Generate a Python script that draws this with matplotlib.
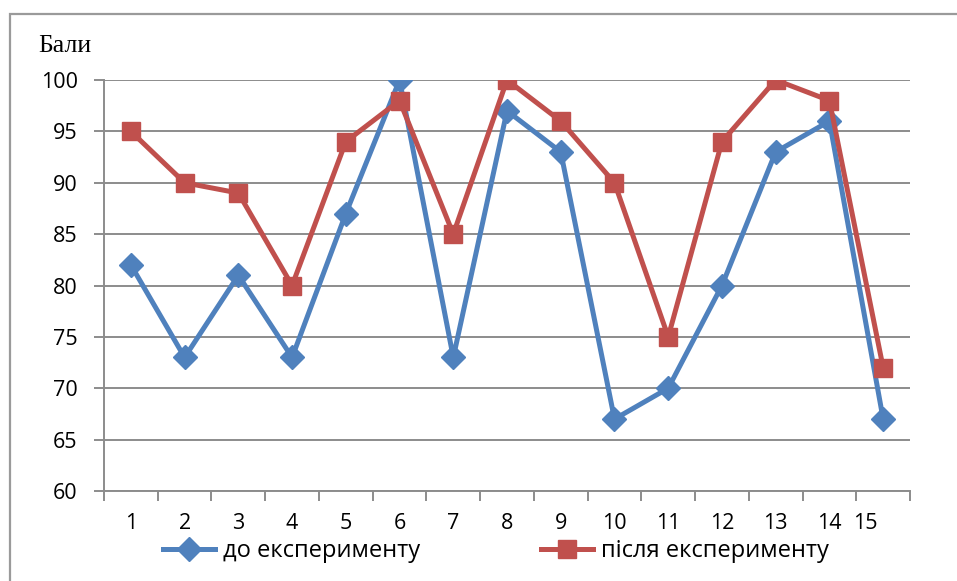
import matplotlib.pyplot as plt
import matplotlib.transforms as mtransforms
from matplotlib.patches import Rectangle
import numpy as np

categories = [str(i) for i in range(1, 16)]
before = [82, 73, 81, 73, 87, 100, 73, 97, 93, 67, 70, 80, 93, 96, 67]
after = [95, 90, 89, 80, 94, 98, 85, 100, 96, 90, 75, 94, 100, 98, 72]
label_before = 'до експерименту'
label_after = 'після експерименту'

blue = '#4F81BD'
red = '#C0504D'
grid_c = '#8C8C8C'

plt.rcParams['font.family'] = ['Open Sans', 'DejaVu Sans']

fig = plt.figure(figsize=(9.57, 5.81), dpi=100)
ax = fig.add_axes([0.1087, 0.1549, 0.8422, 0.7074])

x = np.arange(1, len(categories) + 1)
ax.plot(x, before, color=blue, lw=3.6, marker='D', ms=12.5, mec=blue, mfc=blue,
        label=label_before, zorder=3)
ax.plot(x, after, color=red, lw=3.6, marker='s', ms=13.5, mec=red, mfc=red,
        label=label_after, zorder=4)

ax.set_xlim(0.5, len(categories) + 0.5)
ax.set_ylim(60, 100)
ax.set_yticks(np.arange(60, 101, 5))
ax.yaxis.grid(True, color=grid_c, lw=1.4)
ax.set_axisbelow(True)

ax.set_xticks(x)
ax.set_xticklabels(categories)
ax.set_xticks(np.arange(0.5, len(categories) + 1, 1), minor=True)
ax.tick_params(axis='x', which='major', length=0, pad=16, labelsize=15.5)
ax.tick_params(axis='x', which='minor', length=7, width=1.4, color=grid_c)
ax.tick_params(axis='y', length=7, width=1.4, color=grid_c, pad=12, labelsize=15.5)

# the last label sits a bit to the left in the original
lab = ax.get_xticklabels()[-1]
lab.set_transform(lab.get_transform() + mtransforms.ScaledTranslation(-0.18, 0, fig.dpi_scale_trans))

for s in ['top', 'right']:
    ax.spines[s].set_visible(False)
for s in ['left', 'bottom']:
    ax.spines[s].set_color(grid_c)
    ax.spines[s].set_linewidth(1.4)

fig.text(38 / 957, 1 - 52 / 581, 'Бали', family='Liberation Serif', fontsize=18.5,
         ha='left', va='baseline')

fig.legend(loc='center', bbox_to_anchor=(496 / 957, 1 - 551 / 581), ncol=2,
           frameon=False, fontsize=17, handlelength=2.2, handletextpad=0.35,
           columnspacing=5.1, markerscale=1.0, borderpad=0.2)

fig.patches.append(Rectangle((10 / 957, -0.1), 1.2, 1 - 14 / 581 + 0.1,
                             transform=fig.transFigure, fill=False,
                             edgecolor='#9A9A9A', lw=1.6))

fig.savefig('out.png', dpi=100)
